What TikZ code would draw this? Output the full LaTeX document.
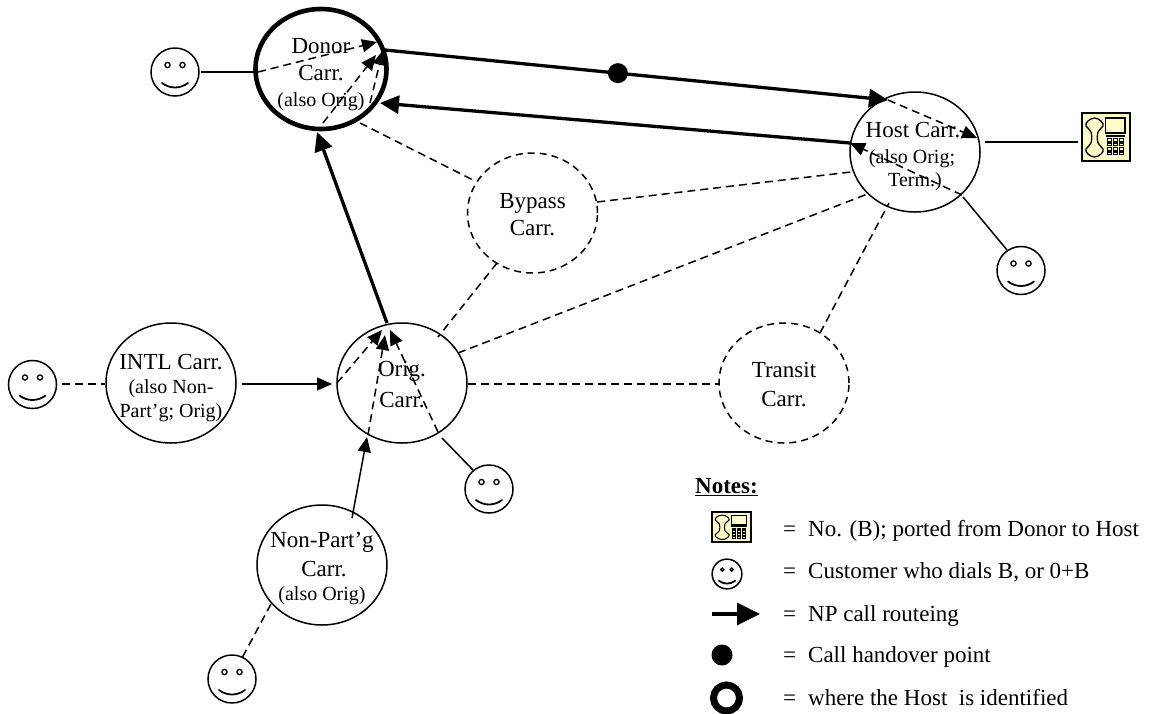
\documentclass[tikz,border=0pt]{standalone}
\usepackage{fontspec}
\setmainfont{Liberation Serif}
\usetikzlibrary{arrows.meta,shapes.geometric}
\newcommand{\smileyface}[4]{% name, x, y, scale
  \node[smileyhead,minimum size=#4*48pt] (#1) at (#2,#3) {};
  \begin{scope}[shift={(#2,#3)},scale=#4]
    \draw[line width=1.3pt] (-7.5,-7) circle[radius=2.6];
    \draw[line width=1.3pt] (7.5,-7) circle[radius=2.6];
    \draw[line width=1.8pt,line cap=round] (-13,11) .. controls (-5,17) and (5,17) .. (13,11);
  \end{scope}}
\newcommand{\phoneicon}[6]{% name, x, y (top-left), xscale, yscale, line width
  \node[phonebox,minimum width=#4*48pt,minimum height=#5*48pt,anchor=north west,line width=#6*1.6pt] (#1) at (#2,#3) {};
  \begin{scope}[shift={(#2,#3)},xscale=#4,yscale=#5,line width=#6*1.3pt]
    \draw plot[smooth cycle,tension=0.7] coordinates {(12.5,5) (19,8) (21,13) (16,19) (16,30) (21,36) (19,41) (12.5,44) (6,41) (4,36) (9,30) (9,19) (4,13) (6,8)};
    \draw (23.5,5) rectangle (43,20);
    \fill (23.5,21.5) rectangle (43,23.5);
    \foreach \cx in {25.5,31.5,37.5}
      \foreach \cy in {25.5,30,34.5,39}
        \draw[line width=#6*1.1pt] (\cx,\cy) rectangle +(3.6,2.6);
  \end{scope}}
\tikzset{
  x=1pt,y=-1pt,
  carrier/.style={ellipse,draw,line width=1.5pt,minimum width=130pt,minimum height=120pt,inner sep=0pt,outer sep=0pt},
  donorcarrier/.style={carrier,line width=4.6pt},
  dashcarrier/.style={carrier,dash pattern=on 7pt off 5pt},
  smileyhead/.style={circle,draw,line width=1.5pt,inner sep=0pt,outer sep=0pt},
  phonebox/.style={rectangle,draw,fill=yellow!22,inner sep=0pt,outer sep=0pt},
  big/.style={anchor=base,inner sep=0pt,font=\fontsize{23}{27}\selectfont},
  small/.style={anchor=base,inner sep=0pt,font=\fontsize{20}{24}\selectfont},
  legend/.style={anchor=base west,inner sep=0pt,font=\fontsize{23}{27}\selectfont},
  solidline/.style={line width=1.5pt},
  dashline/.style={line width=1.5pt,dash pattern=on 8pt off 5pt},
  thinarrow/.style={-{Triangle[length=15pt,width=13pt]}},
  dasharrow/.style={dashline,-{Triangle[length=15pt,width=13pt]}},
  thickarrow/.style={line width=3.3pt,-{Triangle[length=19pt,width=18pt]}},
  handover/.style={circle,fill=black,inner sep=0pt,outer sep=0pt,minimum size=20pt},
}
\begin{document}
\begin{tikzpicture}
\clip (0,0) rectangle (1149,713);
\useasboundingbox (0,0) rectangle (1149,713);
% carriers
\node[donorcarrier,minimum width=131pt,minimum height=120pt] (donor) at (321,69) {};
\node[carrier] (host) at (915,152) {};
\node[dashcarrier] (bypass) at (532.5,213) {};
\node[dashcarrier] (transit) at (784,383) {};
\node[carrier] (orig) at (402,383) {};
\node[carrier] (intl) at (171,383) {};
\node[carrier] (nonpart) at (322,565) {};
% customers
\smileyface{smD}{175}{72}{1}
\smileyface{smH}{1021}{270.5}{1}
\smileyface{smI}{32.5}{384.5}{1}
\smileyface{smO}{489}{489}{1}
\smileyface{smN}{232}{679}{1}
\phoneicon{phone}{1082}{113}{1}{1}{1}
% carrier labels
\node[big] (t1) at (321,53) {Donor};
\node[big] (t2) at (321,80) {Carr.};
\node[small] (t3) at (321,106) {(also Orig)};
\node[big] (t4) at (913,137) {Host Carr.};
\node[small] (t5) at (912,163) {(also Orig;};
\node[small] (t6) at (915,186) {Term.)};
\node[big] (t7) at (532.5,208) {Bypass};
\node[big] (t8) at (532.5,235) {Carr.};
\node[big] (t9) at (784,377) {Transit};
\node[big] (t10) at (784,406) {Carr.};
\node[big] (t11) at (402,376) {Orig.};
\node[big] (t12) at (402,407) {Carr.};
\node[big] (t13) at (171,369) {INTL Carr.};
\node[small] (t14) at (171,393) {(also Non-};
\node[small] (t15) at (171,417) {Part’g; Orig)};
\node[big] (t16) at (322,547) {Non-Part’g};
\node[big] (t17) at (324,576) {Carr.};
\node[small] (t18) at (322,600) {(also Orig)};
% connector ends
\coordinate (dA) at (377,42);
\coordinate (dB) at (376,55);
\coordinate (dC) at (383,50);
\coordinate (dS1) at (258,72);
\coordinate (dS2) at (323,123);
\coordinate (dS3) at (370,103);
\coordinate (dOut) at (385,50);
\coordinate (dIn) at (380,103);
\coordinate (dBot) at (317,132);
\coordinate (dByp) at (360,123);
\coordinate (hA) at (888,100);
\coordinate (hB) at (977,138);
\coordinate (hC) at (850,143);
\coordinate (hD) at (962,195);
\coordinate (hS) at (963,197);
\coordinate (hPh) at (985,142);
\coordinate (hByp) at (851,172);
\coordinate (hOrg) at (870,193);
\coordinate (hTr) at (889,203);
\coordinate (bD) at (473,180);
\coordinate (bH) at (597,202);
\coordinate (bO) at (497,263);
\coordinate (trH) at (820,333);
\coordinate (oA) at (385,335);
\coordinate (oB) at (382,330);
\coordinate (oC) at (390,330);
\coordinate (oTop) at (387,323);
\coordinate (oL) at (337,383);
\coordinate (oLtip) at (332,384);
\coordinate (oBot) at (367,437);
\coordinate (oBot2) at (368,435);
\coordinate (oR1) at (438,432);
\coordinate (oR2) at (442,438);
\coordinate (oByp) at (438,337);
\coordinate (oHost) at (458,353);
\coordinate (oTr) at (468,384);
\coordinate (trO) at (719,384);
\coordinate (iOut) at (242,384);
\coordinate (iL) at (105,384);
\coordinate (smIr) at (62,384);
\coordinate (nTop) at (352,518);
\coordinate (nS) at (271,604);
\coordinate (smNt) at (242,658);
\coordinate (smOt) at (473,470);
\coordinate (smHt) at (1007,250);
\coordinate (phL) at (1078,142);
\coordinate (smDr) at (201,72);
\coordinate (dL) at (255,72);
% solid connectors
\draw[solidline] (smDr) -- (dL);
\draw[solidline] (hPh) -- (phL);
\draw[solidline] (hS) -- (smHt);
\draw[solidline] (oR2) -- (smOt);
\draw[solidline,thinarrow] (iOut) -- (oLtip);
\draw[solidline,thinarrow] (nTop) -- (oBot);
% dashed plain connectors
\draw[dashline] (dByp) -- (bD);
\draw[dashline] (bH) -- (hByp);
\draw[dashline] (bO) -- (oByp);
\draw[dashline] (oHost) -- (hOrg);
\draw[dashline] (trH) -- (hTr);
\draw[dashline] (oTr) -- (trO);
\draw[dashline] (smIr) -- (iL);
\draw[dashline] (nS) -- (smNt);
% dashed arrows
\draw[dasharrow] (dS1) -- (dA);
\draw[dasharrow] (dS2) -- (dB);
\draw[dasharrow] (dS3) -- (dC);
\draw[dasharrow] (hA) -- (hB);
\draw[dasharrow] (hD) -- (hC);
\draw[dasharrow] (oBot2) -- (oA);
\draw[dasharrow] (oL) -- (oB);
\draw[dasharrow] (oR1) -- (oC);
% thick arrows
\draw[thickarrow] (dOut) -- node[handover,pos=0.463] (hand) {} (hA);
\draw[thickarrow] (hC) -- (dIn);
\draw[thickarrow] (oTop) -- (dBot);
% legend
\node[legend,font=\fontsize{23}{27}\selectfont\bfseries] (notes) at (695,493) {\underline{Notes:}};
\phoneicon{lphone}{712}{512}{0.8125}{0.625}{0.8}
\smileyface{lsmile}{727}{574}{0.62}
\coordinate (la) at (712,614);
\coordinate (lb) at (760,614);
\draw[line width=3.5pt,-{Triangle[length=23pt,width=22pt]}] (la) -- (lb);
\node[handover,minimum size=21pt] (ldot) at (722,655) {};
\node[circle,draw,line width=7pt,inner sep=0pt,outer sep=0pt,minimum size=26pt] (lring) at (726.5,698) {};
\node[legend] (l1) at (783,536) {=\hspace{12pt}No. (B); ported from Donor to Host};
\node[legend] (l2) at (783,578) {=\hspace{12pt}Customer who dials B, or 0+B};
\node[legend] (l3) at (783,621) {=\hspace{12pt}NP call routeing};
\node[legend] (l4) at (783,662) {=\hspace{12pt}Call handover point};
\node[legend] (l5) at (783,705) {=\hspace{12pt}where the Host\ \ is identified};
\end{tikzpicture}
\end{document}
